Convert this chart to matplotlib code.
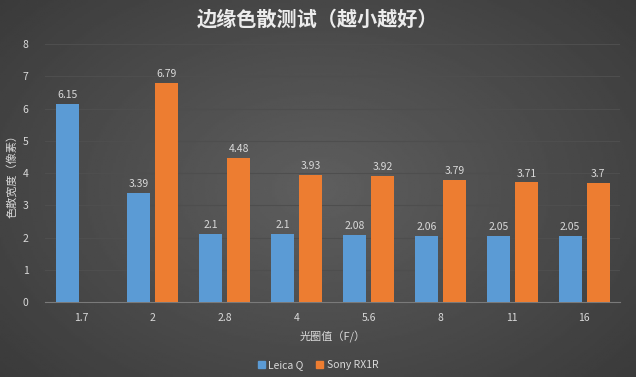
import matplotlib
matplotlib.use("Agg")
import matplotlib.pyplot as plt
import numpy as np

plt.rcParams['font.family'] = ['Noto Sans CJK SC', 'DejaVu Sans']

categories = ["1.7", "2", "2.8", "4", "5.6", "8", "11", "16"]
leica = [6.15, 3.39, 2.1, 2.1, 2.08, 2.06, 2.05, 2.05]
sony = [None, 6.79, 4.48, 3.93, 3.92, 3.79, 3.71, 3.7]
series_names = ["Leica Q", "Sony RX1R"]

fig = plt.figure(figsize=(6.36, 3.77), dpi=100)
bg = '#363636'
fig.patch.set_facecolor(bg)
gax = fig.add_axes([0, 0, 1, 1], zorder=-10)
yy, xx = np.mgrid[0:1:200j, 0:1:300j]
grad = 1 - 0.4 * np.sqrt(((xx - 0.5) / 0.7) ** 2 + ((yy - 0.5) / 0.8) ** 2)
gax.imshow(grad, cmap='gray', vmin=0, vmax=2.7, aspect='auto', extent=[0, 1, 0, 1])
gax.axis('off')

ax = fig.add_axes([0.071, 0.199, 0.904, 0.684])
ax.set_facecolor('none')
x = np.arange(len(categories))
w = 0.32
gap = 0.07
blue = '#5b9bd5'
orange = '#ed7d31'
lx = x - (w + gap) / 2
sx = x + (w + gap) / 2
ax.bar(lx, leica, width=w, color=blue, zorder=3)
sv = [v if v is not None else 0 for v in sony]
sb = ax.bar(sx, sv, width=w, color=orange, zorder=3)
for i, v in enumerate(sony):
    if v is None:
        sb[i].set_visible(False)

txt = '#d9d9d9'
for xi, v in zip(lx, leica):
    ax.text(xi, v + 0.12, f"{v:g}", ha='center', va='bottom', color=txt, fontsize=7.5)
for xi, v in zip(sx, sony):
    if v is not None:
        ax.text(xi, v + 0.12, f"{v:g}", ha='center', va='bottom', color=txt, fontsize=7.5)

ax.set_xlim(-0.5, len(categories) - 0.5)
ax.set_ylim(0, 8)
ax.set_yticks(range(0, 9))
ax.set_xticks(x)
ax.set_xticklabels(categories)
ax.tick_params(axis='both', colors=txt, labelsize=7.5, length=0)
ax.tick_params(axis='y', pad=12)
ax.tick_params(axis='x', pad=8)
ax.yaxis.grid(True, color='#4e4e4e', linewidth=0.8, zorder=0)
for s in ['top', 'right', 'left']:
    ax.spines[s].set_visible(False)
ax.spines['bottom'].set_color('#7a7a7a')

ax.set_ylabel("色散宽度（像素）", color=txt, fontsize=8, labelpad=4)
ax.set_xlabel("光圈值（F/）", color=txt, fontsize=8, labelpad=6)
fig.text(0.5, 0.95, "边缘色散测试（越小越好）", ha='center', va='center',
         color='#ececec', fontsize=14.5, fontweight='bold')

handles = [plt.Rectangle((0, 0), 1, 1, color=blue), plt.Rectangle((0, 0), 1, 1, color=orange)]
fig.legend(handles, series_names, loc='center', bbox_to_anchor=(0.5, 0.032), ncol=2,
           frameon=False, fontsize=7.5, labelcolor=txt, handlelength=0.7, handleheight=0.7,
           handletextpad=0.3, columnspacing=1.2)

fig.savefig("out.png", dpi=100, facecolor=bg)
